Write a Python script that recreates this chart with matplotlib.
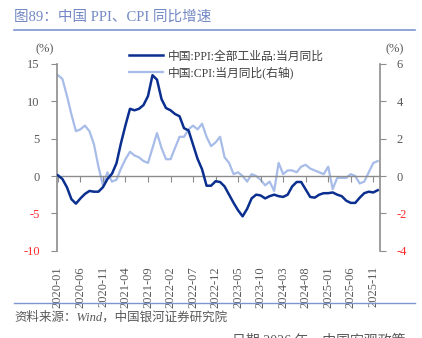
import matplotlib
matplotlib.use("Agg")
import matplotlib.pyplot as plt
import numpy as np

plt.rcParams['font.family'] = ['Liberation Serif', 'Noto Sans CJK SC']

# 2020-01 .. 2025-12
months = [f"{y}-{m:02d}" for y in range(2020, 2026) for m in range(1, 13)]

ppi = [0.1, -0.4, -1.5, -3.1, -3.7, -3.0, -2.4, -2.0, -2.1, -2.1, -1.5, -0.4,
       0.3, 1.7, 4.4, 6.8, 9.0, 8.8, 9.0, 9.5, 10.7, 13.5, 12.9, 10.3,
       9.1, 8.8, 8.3, 8.0, 6.4, 6.1, 4.2, 2.3, 0.9, -1.3, -1.3, -0.7,
       -0.8, -1.4, -2.5, -3.6, -4.6, -5.4, -4.4, -3.0, -2.5, -2.6, -3.0, -2.7,
       -2.5, -2.7, -2.8, -2.5, -1.4, -0.8, -0.8, -1.8, -2.8, -2.9, -2.5, -2.3,
       -2.3, -2.2, -2.5, -2.7, -3.3, -3.6, -3.6, -2.9, -2.3, -2.1, -2.2, -1.9]

cpi = [5.4, 5.2, 4.3, 3.3, 2.4, 2.5, 2.7, 2.4, 1.7, 0.5, -0.5, 0.2,
       -0.3, -0.2, 0.4, 0.9, 1.3, 1.1, 1.0, 0.8, 0.7, 1.5, 2.3, 1.5,
       0.9, 0.9, 1.5, 2.1, 2.1, 2.5, 2.7, 2.5, 2.8, 2.1, 1.6, 1.8,
       2.1, 1.0, 0.7, 0.1, 0.2, 0.0, -0.3, 0.1, 0.0, -0.2, -0.5, -0.3,
       -0.8, 0.7, 0.1, 0.3, 0.3, 0.2, 0.5, 0.6, 0.4, 0.3, 0.2, 0.1,
       0.5, -0.7, -0.1, -0.1, -0.1, 0.1, 0.0, -0.4, -0.3, 0.2, 0.7, 0.8]

left_ticks = [-10, -5, 0, 5, 10, 15]
right_ticks = [-4, -2, 0, 2, 4, 6]

dark = '#0B2F8F'
light = '#A7BCE8'
grey = '#8C8C8C'
txt = '#595959'

fig = plt.figure(figsize=(4.22, 3.38), dpi=100)
ax = fig.add_axes([0.134, 0.2583, 0.9005 - 0.134, 0.8107 - 0.2583])
ax2 = ax.twinx()

x = np.arange(len(months))
l1, = ax.plot(x, ppi, color=dark, lw=1.8, zorder=3)
l2, = ax2.plot(x, cpi, color=light, lw=1.6, zorder=2)
ax.set_zorder(ax2.get_zorder() + 1)
ax.patch.set_visible(False)

ax.set_xlim(-0.3, 71.5)
ax.set_ylim(-10, 15)
ax2.set_ylim(-4, 6)

for a in (ax, ax2):
    a.spines['top'].set_visible(False)
    a.spines['bottom'].set_visible(False)
    a.spines['left'].set_color(grey)
    a.spines['right'].set_color(grey)
ax.spines['right'].set_visible(False)
ax2.spines['left'].set_visible(False)
ax.spines['left'].set_linewidth(1.2)
ax2.spines['right'].set_linewidth(1.2)

# zero line with tick marks pointing down
ax.spines['bottom'].set_visible(True)
ax.spines['bottom'].set_position(('data', 0))
ax.spines['bottom'].set_color(grey)
ax.spines['bottom'].set_linewidth(1.0)
ax.set_xticks(x[::5])
ax.set_xticklabels(months[::5], rotation=90, fontsize=9, color=txt)
ax.tick_params(axis='x', direction='out', length=4, color=grey, pad=61)

ax.set_yticks(left_ticks)
ax.set_yticklabels([str(v) for v in left_ticks], fontsize=9)
ax.tick_params(axis='y', direction='out', length=4, color=grey, pad=8)
for lab, v in zip(ax.get_yticklabels(), left_ticks):
    lab.set_color('#FF2B2B' if v < 0 else txt)

ax2.set_yticks(right_ticks)
ax2.set_yticklabels([str(v) for v in right_ticks], fontsize=9)
ax2.tick_params(axis='y', direction='out', length=4, color=grey, pad=8)
for lab, v in zip(ax2.get_yticklabels(), right_ticks):
    lab.set_color('#FF2B2B' if v < 0 else txt)

fig.text(45 / 422, 1 - 49 / 338, '(%)', fontsize=9, color=txt, ha='center', va='center')
fig.text(395 / 422, 1 - 49 / 338, '(%)', fontsize=9, color=txt, ha='center', va='center')

fig.legend([l1, l2], ['中国:PPI:全部工业品:当月同比', '中国:CPI:当月同比(右轴)'],
           loc='upper left', bbox_to_anchor=(118 / 422, 1 - 40 / 338),
           frameon=False, fontsize=8.5, handlelength=2.9, handletextpad=0.4,
           labelspacing=0.35, labelcolor='#404040')

# title and rules
fig.text(14 / 422, 1 - 17 / 338, '图89：中国 PPI、CPI 同比增速', fontsize=10.5,
         color='#7388C4', ha='left', va='center')
fig.add_artist(plt.Line2D([14 / 422, 415 / 422], [1 - 30 / 338] * 2,
                          color='#7E95D1', lw=1.2))
fig.add_artist(plt.Line2D([14 / 422, 415 / 422], [1 - 302.7 / 338] * 2,
                          color='#7E95D1', lw=1.0))
fig.text(14 / 422, 1 - 317 / 338, '资料来源：Wind，中国银河证券研究院', fontsize=9,
         color=txt, style='italic', ha='left', va='center')
fig.text(232 / 422, 1 - 340 / 338, '日期 2026 年，中国宏观政策', fontsize=10,
         color=txt, ha='left', va='center')

fig.savefig('out.png', dpi=100)
